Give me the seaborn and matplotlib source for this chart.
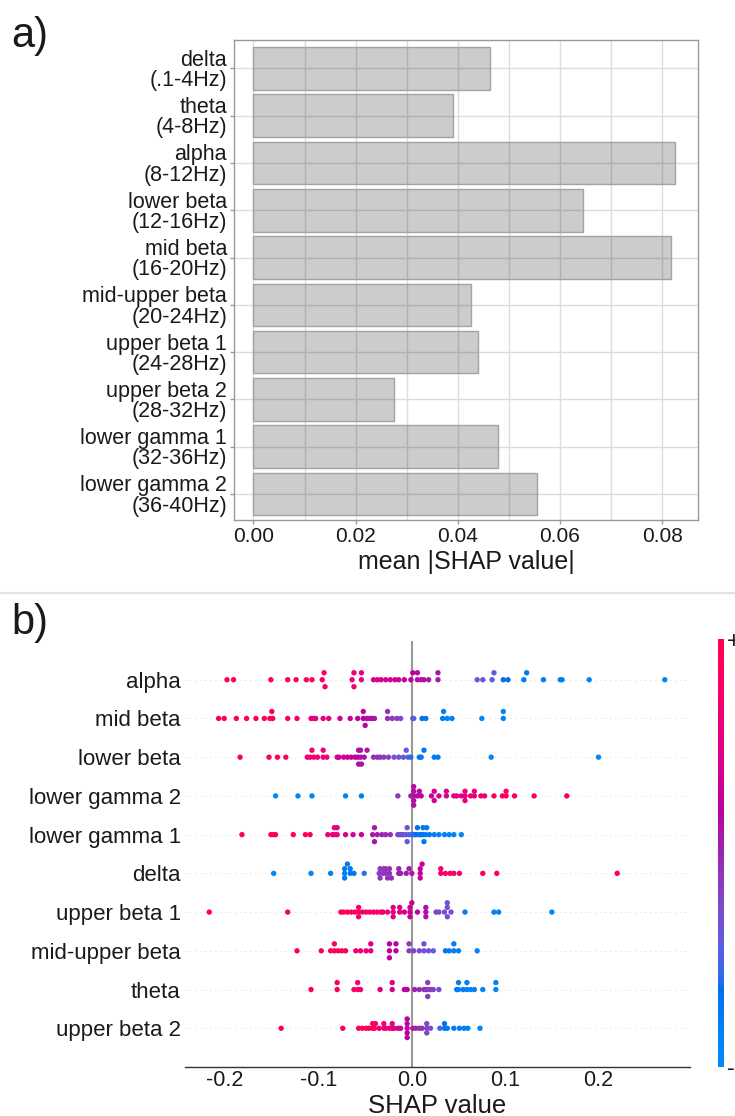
import numpy as np
import pandas as pd
import matplotlib
matplotlib.use("Agg")
import matplotlib.pyplot as plt
import seaborn as sns
from matplotlib.colors import LinearSegmentedColormap, Normalize
from matplotlib.cm import ScalarMappable
from matplotlib.lines import Line2D

# ---------------- data: panel a ----------------
bar_labels = ["delta\n(.1-4Hz)", "theta\n(4-8Hz)", "alpha\n(8-12Hz)", "lower beta\n(12-16Hz)",
              "mid beta\n(16-20Hz)", "mid-upper beta\n(20-24Hz)", "upper beta 1\n(24-28Hz)",
              "upper beta 2\n(28-32Hz)", "lower gamma 1\n(32-36Hz)", "lower gamma 2\n(36-40Hz)"]
mean_abs_shap = [0.0463, 0.0390, 0.0825, 0.0645, 0.0818, 0.0426, 0.0440, 0.0275, 0.0479, 0.0555]
xticks_a = [0.00, 0.02, 0.04, 0.06, 0.08]

# ---------------- data: panel b (top to bottom) ----------------
features_b = ["alpha", "mid beta", "lower beta", "lower gamma 2", "lower gamma 1",
              "delta", "upper beta 1", "mid-upper beta", "theta", "upper beta 2"]
xticks_b = [-0.2, -0.1, 0.0, 0.1, 0.2]

shap_alpha = [-0.198, -0.191, -0.151, -0.133, -0.124, -0.113, -0.107, -0.096, -0.094, -0.093,
              -0.064, -0.062, -0.062, -0.054, -0.054, -0.041, -0.037, -0.033, -0.028, -0.023,
              -0.018, -0.014, -0.008, -0.001, 0.001, 0.006, 0.006, 0.010, 0.013, 0.018,
              0.028, 0.028, 0.070, 0.076, 0.086, 0.088, 0.098, 0.103, 0.120, 0.123,
              0.141, 0.159, 0.161, 0.190, 0.271]
val_alpha = [1.0, 1.0, 0.98, 0.97, 0.96, 0.95, 0.95, 0.93, 0.93, 0.92,
             0.85, 0.84, 0.84, 0.83, 0.83, 0.74, 0.73, 0.72, 0.71, 0.70,
             0.69, 0.68, 0.67, 0.60, 0.60, 0.58, 0.58, 0.57, 0.56, 0.55,
             0.55, 0.55, 0.32, 0.31, 0.29, 0.28, 0.18, 0.17, 0.12, 0.11,
             0.09, 0.07, 0.07, 0.05, 0.02]

shap_midbeta = [-0.207, -0.201, -0.188, -0.177, -0.167, -0.158, -0.152, -0.149, -0.150, -0.133,
                -0.123, -0.108, -0.105, -0.103, -0.095, -0.089, -0.077, -0.066, -0.058, -0.052,
                -0.052, -0.050, -0.048, -0.045, -0.043, -0.040, -0.026, -0.026, -0.021, -0.016,
                -0.012, 0.001, 0.002, 0.011, 0.015, 0.033, 0.034, 0.038, 0.043, 0.075,
                0.098, 0.098]
val_midbeta = [1.0, 1.0, 0.99, 0.98, 0.97, 0.96, 0.95, 0.95, 0.95, 0.90,
               0.88, 0.80, 0.80, 0.80, 0.78, 0.77, 0.70, 0.65, 0.62, 0.60,
               0.60, 0.58, 0.58, 0.57, 0.56, 0.55, 0.46, 0.45, 0.43, 0.42,
               0.40, 0.30, 0.30, 0.18, 0.16, 0.10, 0.10, 0.08, 0.08, 0.05,
               0.05, 0.05]

shap_lowerbeta = [-0.184, -0.153, -0.144, -0.135, -0.112, -0.109, -0.107, -0.105, -0.101, -0.095,
                  -0.095, -0.091, -0.080, -0.078, -0.073, -0.069, -0.065, -0.061, -0.058, -0.057,
                  -0.057, -0.055, -0.055, -0.054, -0.051, -0.048, -0.041, -0.037, -0.034, -0.030,
                  -0.025, -0.019, -0.014, -0.009, -0.006, -0.004, -0.001, 0.008, 0.010, 0.013,
                  0.024, 0.028, 0.085, 0.200]
val_lowerbeta = [1.0, 1.0, 0.98, 0.97, 0.88, 0.87, 0.86, 0.85, 0.85, 0.84,
                 0.84, 0.83, 0.72, 0.70, 0.68, 0.66, 0.65, 0.63, 0.58, 0.58,
                 0.57, 0.57, 0.56, 0.56, 0.55, 0.54, 0.48, 0.46, 0.45, 0.44,
                 0.42, 0.35, 0.33, 0.32, 0.30, 0.28, 0.20, 0.15, 0.14, 0.13,
                 0.10, 0.10, 0.05, 0.03]

shap_lowergamma2 = [-0.146, -0.122, -0.107, -0.071, -0.054, -0.015, -0.001, 0.002, 0.002, 0.002,
                    0.002, 0.002, 0.006, 0.008, 0.010, 0.021, 0.024, 0.024, 0.029, 0.037,
                    0.037, 0.045, 0.048, 0.053, 0.057, 0.057, 0.057, 0.063, 0.067, 0.067,
                    0.074, 0.078, 0.088, 0.097, 0.101, 0.101, 0.110, 0.131, 0.166]
val_lowergamma2 = [0.02, 0.03, 0.04, 0.06, 0.10, 0.45, 0.52, 0.55, 0.56, 0.56,
                   0.57, 0.57, 0.58, 0.58, 0.60, 0.68, 0.70, 0.70, 0.72, 0.74,
                   0.75, 0.76, 0.77, 0.78, 0.78, 0.79, 0.79, 0.80, 0.81, 0.81,
                   0.82, 0.84, 0.90, 0.92, 0.93, 0.93, 0.95, 1.0, 1.0]

shap_lowergamma1 = [-0.182, -0.151, -0.148, -0.146, -0.127, -0.114, -0.109, -0.090, -0.085, -0.083,
                    -0.083, -0.080, -0.080, -0.071, -0.063, -0.054, -0.042, -0.040, -0.040, -0.037,
                    -0.032, -0.028, -0.023, -0.015, -0.013, -0.011, -0.009, -0.006, -0.005, -0.005,
                    -0.003, 0.000, 0.001, 0.003, 0.005, 0.006, 0.008, 0.010, 0.012, 0.012,
                    0.013, 0.015, 0.016, 0.019, 0.024, 0.029, 0.035, 0.040, 0.045, 0.053]
val_lowergamma1 = [1.0, 0.98, 0.98, 0.98, 0.96, 0.95, 0.94, 0.80, 0.80, 0.80,
                   0.80, 0.79, 0.79, 0.72, 0.70, 0.66, 0.55, 0.55, 0.55, 0.52,
                   0.50, 0.48, 0.46, 0.40, 0.38, 0.36, 0.34, 0.32, 0.32, 0.30,
                   0.28, 0.25, 0.22, 0.20, 0.18, 0.17, 0.16, 0.15, 0.14, 0.14,
                   0.13, 0.12, 0.11, 0.10, 0.08, 0.07, 0.06, 0.05, 0.04, 0.03]

shap_delta = [-0.148, -0.108, -0.087, -0.072, -0.072, -0.072, -0.069, -0.066, -0.066, -0.062,
              -0.051, -0.035, -0.034, -0.034, -0.031, -0.030, -0.028, -0.028, -0.026, -0.024,
              -0.024, -0.022, -0.014, -0.014, -0.012, -0.006, -0.003, 0.000, 0.009, 0.009,
              0.009, 0.011, 0.031, 0.031, 0.036, 0.041, 0.045, 0.051, 0.076, 0.091, 0.220]
val_delta = [0.03, 0.05, 0.07, 0.10, 0.10, 0.10, 0.10, 0.12, 0.12, 0.12,
             0.22, 0.42, 0.43, 0.43, 0.44, 0.44, 0.45, 0.45, 0.46, 0.46,
             0.46, 0.47, 0.50, 0.50, 0.52, 0.53, 0.54, 0.55, 0.66, 0.66,
             0.66, 0.67, 0.88, 0.88, 0.90, 0.90, 0.90, 0.92, 0.97, 0.98, 1.0]

shap_upperbeta1 = [-0.217, -0.133, -0.076, -0.073, -0.069, -0.065, -0.061, -0.057, -0.057, -0.057,
                   -0.053, -0.049, -0.045, -0.041, -0.037, -0.033, -0.031, -0.026, -0.020, -0.020,
                   -0.020, -0.013, -0.013, -0.008, -0.002, -0.002, -0.002, 0.000, 0.006, 0.015,
                   0.015, 0.015, 0.026, 0.029, 0.035, 0.038, 0.038, 0.038, 0.042, 0.057,
                   0.088, 0.093, 0.150]
val_upperbeta1 = [1.0, 1.0, 0.98, 0.97, 0.96, 0.95, 0.94, 0.93, 0.93, 0.93,
                  0.92, 0.91, 0.90, 0.88, 0.87, 0.86, 0.85, 0.84, 0.78, 0.78,
                  0.78, 0.75, 0.75, 0.72, 0.68, 0.68, 0.68, 0.66, 0.62, 0.57,
                  0.57, 0.57, 0.40, 0.38, 0.36, 0.35, 0.35, 0.35, 0.33, 0.12,
                  0.08, 0.07, 0.05]

shap_midupperbeta = [-0.123, -0.097, -0.087, -0.083, -0.083, -0.079, -0.075, -0.071, -0.060, -0.055,
                     -0.049, -0.044, -0.044, -0.024, -0.024, -0.024, -0.017, -0.017, -0.003, -0.003,
                     0.002, 0.008, 0.013, 0.013, 0.018, 0.023, 0.036, 0.040, 0.045, 0.045,
                     0.050, 0.070]
val_midupperbeta = [1.0, 0.98, 0.97, 0.96, 0.96, 0.95, 0.95, 0.94, 0.85, 0.83,
                    0.80, 0.78, 0.78, 0.62, 0.62, 0.62, 0.58, 0.58, 0.42, 0.42,
                    0.40, 0.38, 0.35, 0.35, 0.33, 0.30, 0.15, 0.12, 0.10, 0.10,
                    0.08, 0.05]

shap_theta = [-0.108, -0.080, -0.080, -0.062, -0.058, -0.058, -0.055, -0.034, -0.021, -0.021,
              -0.008, -0.005, 0.003, 0.008, 0.013, 0.015, 0.017, 0.017, 0.017, 0.020,
              0.023, 0.029, 0.048, 0.050, 0.050, 0.055, 0.059, 0.059, 0.063, 0.067,
              0.076, 0.090, 0.090]
val_theta = [1.0, 0.98, 0.98, 0.90, 0.88, 0.88, 0.87, 0.75, 0.72, 0.72,
             0.62, 0.60, 0.50, 0.48, 0.46, 0.45, 0.44, 0.44, 0.44, 0.42,
             0.40, 0.36, 0.10, 0.10, 0.10, 0.09, 0.08, 0.08, 0.07, 0.06,
             0.05, 0.05, 0.05]

shap_upperbeta2 = [-0.140, -0.074, -0.057, -0.053, -0.049, -0.046, -0.042, -0.042, -0.040, -0.039,
                   -0.035, -0.030, -0.030, -0.028, -0.024, -0.021, -0.021, -0.019, -0.015, -0.012,
                   -0.005, -0.005, -0.005, -0.005, -0.005, 0.001, 0.004, 0.008, 0.011, 0.016,
                   0.016, 0.016, 0.020, 0.030, 0.035, 0.035, 0.038, 0.045, 0.051, 0.056,
                   0.060, 0.073]
val_upperbeta2 = [1.0, 1.0, 0.98, 0.97, 0.96, 0.95, 0.94, 0.93, 0.92, 0.91,
                  0.88, 0.86, 0.85, 0.83, 0.80, 0.78, 0.77, 0.75, 0.72, 0.70,
                  0.62, 0.62, 0.60, 0.60, 0.60, 0.55, 0.50, 0.47, 0.45, 0.42,
                  0.40, 0.40, 0.38, 0.25, 0.15, 0.15, 0.12, 0.10, 0.08, 0.07,
                  0.06, 0.05]

shap_rows = [shap_alpha, shap_midbeta, shap_lowerbeta, shap_lowergamma2, shap_lowergamma1,
             shap_delta, shap_upperbeta1, shap_midupperbeta, shap_theta, shap_upperbeta2]
val_rows = [val_alpha, val_midbeta, val_lowerbeta, val_lowergamma2, val_lowergamma1,
            val_delta, val_upperbeta1, val_midupperbeta, val_theta, val_upperbeta2]

# ---------------- style ----------------
sns.set_style("white")
plt.rcParams["font.family"] = ["Liberation Sans", "DejaVu Sans"]
plt.rcParams["axes.unicode_minus"] = False


def lch2rgb(L, C, h):
    a = C * np.cos(h)
    b = C * np.sin(h)
    fy_ = (L + 16) / 116
    fx_ = fy_ + a / 500
    fz_ = fy_ - b / 200

    def finv(t):
        return t ** 3 if t ** 3 > 0.008856 else (t - 16 / 116) / 7.787
    X = 0.95047 * finv(fx_)
    Y = finv(fy_)
    Z = 1.08883 * finv(fz_)
    r = 3.2404542 * X - 1.5371385 * Y - 0.4985314 * Z
    g = -0.9692660 * X + 1.8760108 * Y + 0.0415560 * Z
    bl = 0.0556434 * X - 0.2040259 * Y + 1.0572252 * Z

    def gam(c):
        c = max(c, 0.0)
        return 1.055 * c ** (1 / 2.4) - 0.055 if c > 0.0031308 else 12.92 * c
    return [min(max(gam(v), 0.0), 1.0) for v in (r, g, bl)]


nsteps = 100
l_vals = list(np.linspace(54., 40., nsteps // 2)) + list(np.linspace(40., 54., nsteps // 2))
c_vals = np.linspace(70., 90., nsteps)
h_vals = np.linspace(4.6588, 0.35470565 + 2 * np.pi, nsteps)
red_blue = LinearSegmentedColormap.from_list(
    "red_blue", [lch2rgb(l, c, h) for l, c, h in zip(l_vals, c_vals, h_vals)])


def swarm_offsets(x, nbins=100, row_height=0.4):
    x = np.asarray(x, dtype=float)
    quant = np.round(nbins * (x - x.min()) / (x.max() - x.min() + 1e-8))
    inds = np.argsort(quant, kind="stable")
    layer, last = 0, -1
    ys = np.zeros(len(x))
    for i in inds:
        if quant[i] != last:
            layer = 0
        ys[i] = np.ceil(layer / 2) * ((layer % 2) * 2 - 1)
        layer += 1
        last = quant[i]
    ys *= 0.9 * (row_height / np.max(ys + 1))
    return ys


W, H = 735, 1116
fig = plt.figure(figsize=(W / 100, H / 100), dpi=100)


def fx(px):
    return px / W


def fy(py):
    return 1 - py / H


# ---------------- panel a ----------------
ax1 = fig.add_axes([fx(234), fy(520), fx(698 - 234), (520 - 40) / H])
df_a = pd.DataFrame({"band": bar_labels, "value": mean_abs_shap})
sns.barplot(data=df_a, x="value", y="band", orient="h", width=0.9, color="black", ax=ax1)
for p in ax1.patches:
    p.set_facecolor((0, 0, 0, 0.2))
    p.set_edgecolor("#a3a3a3")
    p.set_linewidth(1.0)
ax1.set_xlim(-0.0038, 0.0870)
ax1.set_ylim(9.55, -0.6)
ax1.set_xticks(xticks_a)
ax1.set_xticklabels([f"{v:.2f}" for v in xticks_a])
ax1.set_xticks([0.01, 0.03, 0.05, 0.07], minor=True)
ax1.set_axisbelow(True)
ax1.grid(which="both", axis="x", color="#dcdcdc", lw=1.0)
ax1.grid(which="major", axis="y", color="#dcdcdc", lw=1.0)
ax1.tick_params(axis="both", which="major", length=3, width=1, color="#999999",
                labelsize=15, labelcolor="#1a1a1a", pad=2, left=True, bottom=True)
ax1.tick_params(axis="y", labelsize=15.5)
ax1.tick_params(which="minor", length=0)
for t in ax1.get_yticklabels():
    t.set_linespacing(0.95)
for s in ax1.spines.values():
    s.set_color("#999999")
    s.set_linewidth(1.0)
ax1.set_ylabel("")
ax1.set_xlabel("mean |SHAP value|", fontsize=18, color="#1a1a1a", labelpad=3)

fig.text(fx(11), fy(16), "a)", fontsize=30, ha="left", va="top", color="#1a1a1a")

# separator
fig.add_artist(Line2D([0, 1], [fy(593), fy(593)], transform=fig.transFigure,
                      color="#e2e2e2", lw=1.6))

fig.text(fx(11), fy(603), "b)", fontsize=30, ha="left", va="top", color="#1a1a1a")

# ---------------- panel b ----------------
top_b, bot_b = 641, 1067
ax2 = fig.add_axes([fx(185), fy(bot_b), fx(690 - 185), (bot_b - top_b) / H])
n = len(features_b)
recs = []
for k, (feat, sv, fv) in enumerate(zip(features_b, shap_rows, val_rows)):
    pos = n - 1 - k
    offs = swarm_offsets(sv)
    for s_, v_, o_ in zip(sv, fv, offs):
        recs.append({"feature": feat, "shap": s_, "value": v_, "y": pos + o_})
df_b = pd.DataFrame(recs)

for pos in range(n):
    ax2.axhline(y=pos, color="#cccccc", lw=0.6, dashes=(1, 5), zorder=-1)
ax2.axvline(x=0, color="#999999", lw=1.5, zorder=-1)

sns.scatterplot(data=df_b, x="shap", y="y", hue="value", palette=red_blue, hue_norm=(0, 1),
                s=15, linewidth=0, legend=False, ax=ax2, zorder=3)

ax2.set_xlim(-0.243, 0.298)
ax2.set_ylim(-1, n)
ax2.set_yticks(range(n))
ax2.set_yticklabels(features_b[::-1])
ax2.set_xticks(xticks_b)
ax2.set_xticklabels([f"{v:.1f}" for v in xticks_b])
for side in ["top", "right", "left"]:
    ax2.spines[side].set_visible(False)
ax2.spines["bottom"].set_color("#333333")
ax2.spines["bottom"].set_linewidth(1.0)
ax2.tick_params(axis="y", length=0, labelsize=16, labelcolor="#1a1a1a", pad=3)
ax2.tick_params(axis="x", length=0, labelsize=15.5, labelcolor="#1a1a1a", pad=2,
                bottom=True)
ax2.set_ylabel("")
ax2.set_xlabel("SHAP value", fontsize=18.5, color="#1a1a1a")
ax2.xaxis.set_label_coords(0.5, -27 / (bot_b - top_b))
ax2.grid(False)

# colorbar
cax = fig.add_axes([fx(718), fy(1067), fx(6), (1067 - 639) / H])
sm = ScalarMappable(norm=Normalize(0, 1), cmap=red_blue)
cb = fig.colorbar(sm, cax=cax, ticks=[0, 1])
cb.set_ticklabels(["-", "+"])
cb.outline.set_visible(False)
cb.ax.tick_params(length=0, labelsize=17, pad=2, labelcolor="#1a1a1a")

fig.savefig("out.png", dpi=100)
